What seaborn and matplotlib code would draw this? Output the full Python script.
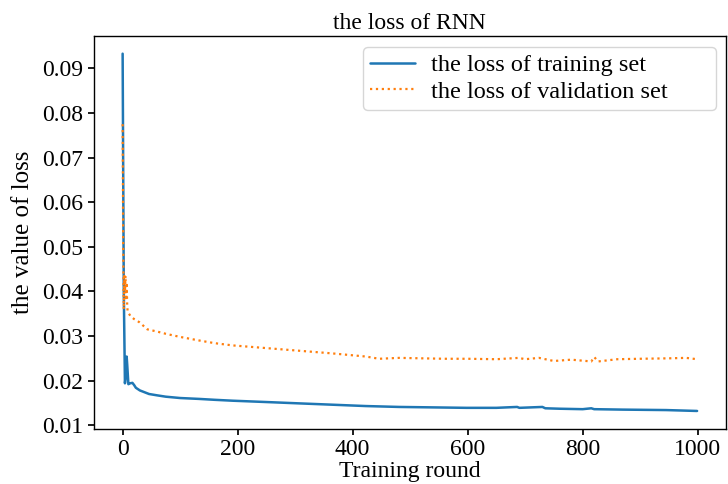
import matplotlib
matplotlib.use("Agg")
import matplotlib.pyplot as plt
import seaborn as sns
import pandas as pd

# training loss (epoch, value)
train_epoch = [0, 2, 4, 5, 7, 8, 10, 13, 17, 20, 23, 30, 46, 60, 75, 100, 133, 160, 191,
               250, 307, 365, 423, 481, 540, 598, 650, 686, 690, 730, 735, 760, 800,
               815, 820, 870, 945, 999]
train_loss = [0.0933, 0.0400, 0.0194, 0.0205, 0.0254, 0.0235, 0.0192, 0.0194, 0.0195,
              0.0190, 0.0184, 0.0178, 0.0170, 0.0167, 0.0164, 0.0161, 0.0159, 0.0157,
              0.0155, 0.0152, 0.0149, 0.0146, 0.0143, 0.0141, 0.0140, 0.0139, 0.0139,
              0.0141, 0.0139, 0.0141, 0.0138, 0.0137, 0.0136, 0.0138, 0.0136, 0.0135,
              0.0134, 0.0132]

# validation loss (epoch, value)
val_epoch = [0, 1, 2, 3, 4, 5, 6, 7, 8, 9, 11, 14, 20, 29, 43, 60, 75, 100, 133, 160,
             191, 249, 307, 365, 423, 446, 481, 520, 560, 600, 650, 689, 700, 724, 750,
             780, 815, 820, 827, 860, 900, 950, 980, 999]
val_loss = [0.0775, 0.0500, 0.0360, 0.0435, 0.0400, 0.0435, 0.0380, 0.0420, 0.0365,
            0.0354, 0.0350, 0.0344, 0.0338, 0.0331, 0.0315, 0.0310, 0.0305, 0.0298,
            0.0290, 0.0284, 0.0279, 0.0273, 0.0267, 0.0261, 0.0254, 0.0249, 0.0251,
            0.0250, 0.0249, 0.0249, 0.0248, 0.0251, 0.0248, 0.0251, 0.0244, 0.0247,
            0.0243, 0.0253, 0.0243, 0.0248, 0.0249, 0.0250, 0.0251, 0.0248]

df_train = pd.DataFrame({"epoch": train_epoch, "loss": train_loss})
df_val = pd.DataFrame({"epoch": val_epoch, "loss": val_loss})

sns.set_theme(style="ticks")
plt.rcParams["font.family"] = ["Liberation Serif", "DejaVu Serif"]
plt.rcParams["text.color"] = "black"
plt.rcParams["axes.labelcolor"] = "black"
plt.rcParams["xtick.color"] = "black"
plt.rcParams["ytick.color"] = "black"

fig, ax = plt.subplots(figsize=(7.28, 4.84), dpi=100)
fig.subplots_adjust(left=0.129, right=0.997, top=0.926, bottom=0.114)

sns.lineplot(data=df_train, x="epoch", y="loss", ax=ax, color="#1f77b4",
             linewidth=1.8, label="the loss of training set")
sns.lineplot(data=df_val, x="epoch", y="loss", ax=ax, color="#ff7f0e",
             linewidth=1.6, linestyle=":", label="the loss of validation set")

ax.set_xticks([0, 200, 400, 600, 800, 1000])
ax.set_yticks([0.01, 0.02, 0.03, 0.04, 0.05, 0.06, 0.07, 0.08, 0.09])
ax.tick_params(labelsize=17, length=4, color="black")
for s in ax.spines.values():
    s.set_color("black")
    s.set_linewidth(1.0)

ax.set_title("the loss of RNN", fontsize=17, pad=5)
ax.set_xlabel("Training round", fontsize=17, labelpad=0.5)
ax.set_ylabel("the value of loss", fontsize=18, labelpad=6)
ax.legend(loc="upper left", bbox_to_anchor=(0.4256, 0.972, 0.5584, 0), mode="expand",
          borderaxespad=0, fontsize=17.5, frameon=True, handlelength=1.85,
          handletextpad=0.65, borderpad=0.3, labelspacing=0.2)

fig.savefig("out.png", dpi=100)
